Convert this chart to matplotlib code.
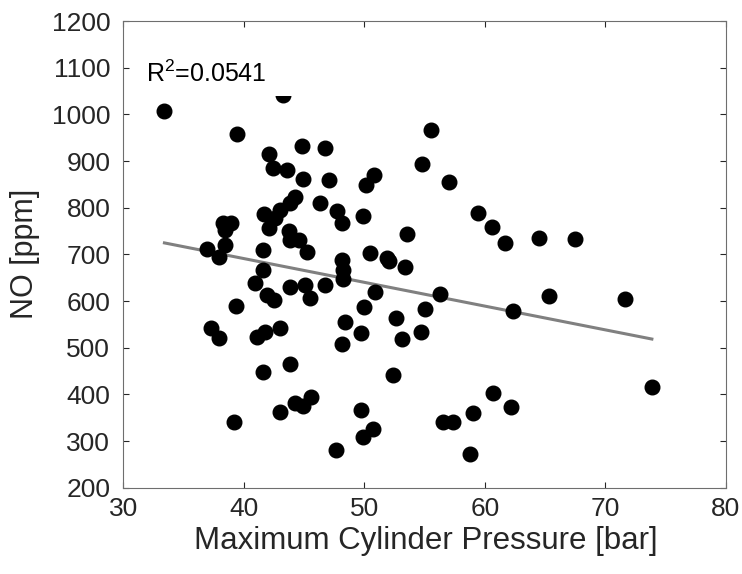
import matplotlib
matplotlib.use('agg')
import matplotlib.pyplot as plt
from matplotlib.patches import Rectangle
import numpy as np

# maximum cylinder pressure [bar] and NO [ppm]
pressure = [33.4, 43.2, 39.4, 55.5, 44.8, 46.7, 42.05, 54.75, 42.4, 43.6,
            44.9, 47.05, 50.8, 50.1, 46.35, 44.2, 43.8, 43.0, 41.7, 47.7,
            48.15, 49.85, 42.6, 38.3, 38.9, 38.45, 42.1, 53.5, 38.4, 36.9,
            37.9, 41.6, 43.7, 43.8, 44.6, 45.2, 48.1, 50.45, 51.85, 52.0,
            53.35, 41.6, 48.2, 48.2, 40.9, 43.85, 45.05, 45.5, 46.7, 41.95,
            42.5, 39.35, 50.85, 50.0, 55.0, 52.6, 48.4, 37.25, 37.95, 41.05,
            41.75, 43.0, 49.7, 53.1, 54.65, 48.1, 41.6, 43.85, 52.4, 44.25,
            44.9, 45.6, 43.0, 39.2, 49.7, 50.7, 49.9, 47.65, 57.0, 59.45,
            60.6, 61.7, 64.5, 67.5, 56.3, 62.3, 65.35, 71.6, 73.85, 60.7,
            62.15, 59.0, 56.5, 57.35, 58.75]
no_ppm = [1007, 1041, 958, 966, 933, 928, 915, 894, 885, 881,
          861, 859, 870, 849, 809, 823, 811, 795, 786, 793,
          767, 783, 778, 768, 768, 752, 757, 743, 721, 711,
          695, 709, 749, 730, 731, 705, 689, 702, 692, 686,
          674, 666, 667, 647, 639, 631, 634, 606, 634, 613,
          602, 590, 619, 588, 584, 564, 556, 543, 520, 524,
          534, 542, 531, 519, 534, 509, 449, 465, 442, 382,
          376, 394, 362, 340, 367, 326, 308, 281, 854, 788,
          759, 725, 734, 733, 615, 579, 611, 604, 415, 402,
          374, 361, 340, 340, 272]

r2_text = 'R$^2$=0.0541'

plt.rcParams['font.family'] = ['Liberation Sans', 'DejaVu Sans']
plt.rcParams['mathtext.fontset'] = 'custom'
plt.rcParams['mathtext.rm'] = 'Liberation Sans'

fig = plt.figure(figsize=(7.42, 5.74), dpi=100)
ax = fig.add_axes([0.1664, 0.1503, 0.812, 0.8131])

x = np.array(pressure)
y = np.array(no_ppm)
ax.plot(x, y, 'o', color='black', markersize=10.5, zorder=3)

# linear fit over the data range
coef = np.polyfit(x, y, 1)
xf = np.array([x.min(), x.max()])
ax.plot(xf, np.polyval(coef, xf), color='#808080', linewidth=2.2, zorder=2)

# white box behind the label hides part of the top point, like the original
ax.add_patch(Rectangle((0.027, 0.8395), 0.258, 0.077, transform=ax.transAxes,
                       facecolor='white', edgecolor='none', zorder=4))
ax.text(31.9, 1070, r2_text, fontsize=18, color='black', va='baseline',
        zorder=5)

ax.set_xlim(30, 80)
ax.set_ylim(200, 1200)
ax.set_xticks(np.arange(30, 81, 10))
ax.set_yticks(np.arange(200, 1201, 100))
ax.tick_params(direction='in', top=True, right=True, length=4, width=0.8,
               colors='#262626', labelsize=19)
ax.tick_params(axis='x', pad=6.5)
ax.tick_params(axis='y', pad=9.5)
for s in ax.spines.values():
    s.set_color('#6e6e6e')
    s.set_linewidth(0.8)

ax.set_xlabel('Maximum Cylinder Pressure [bar]', fontsize=22.5, color='#262626')
ax.set_ylabel('NO [ppm]', fontsize=22, color='#262626')
ax.xaxis.set_label_coords(0.502, -0.081)
ax.yaxis.set_label_coords(-0.139, 0.5)

plt.savefig('out.png', dpi=100)
